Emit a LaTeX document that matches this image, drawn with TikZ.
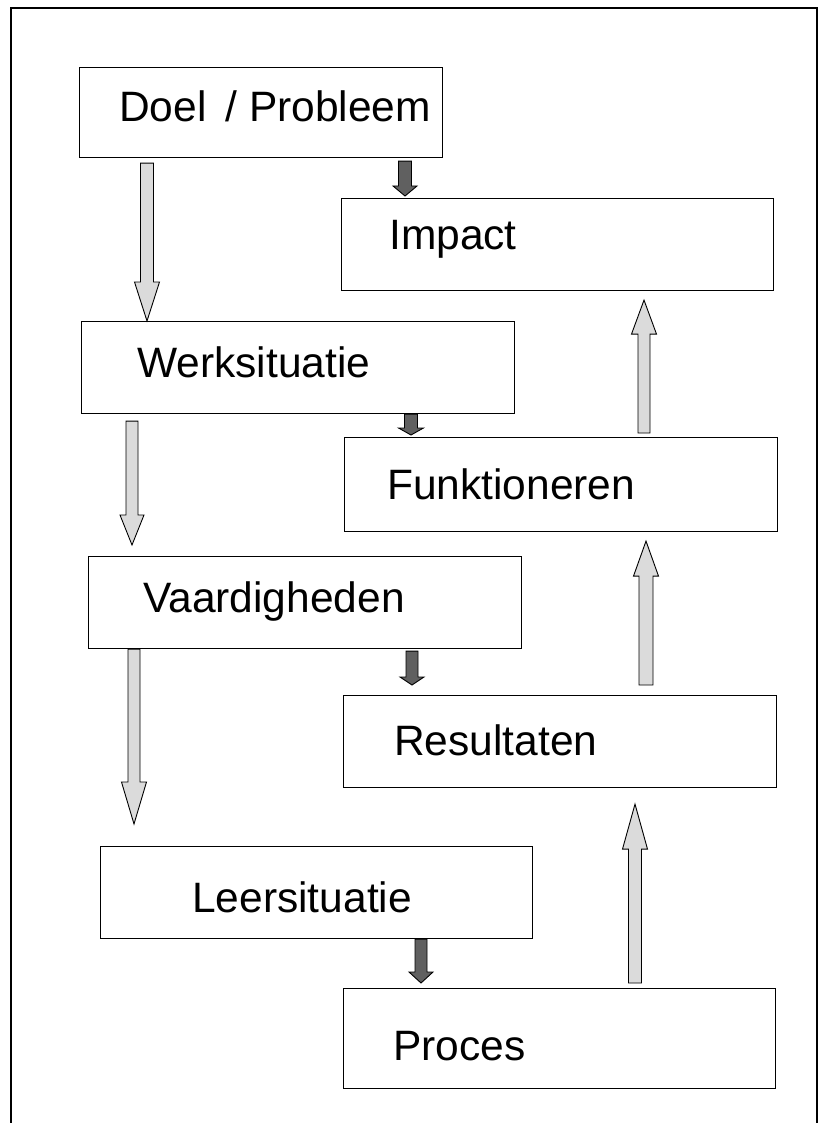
\documentclass[tikz,border=0pt]{standalone}
\usepackage{fontspec}
\setmainfont{Liberation Sans}
\usetikzlibrary{calc}
\tikzset{
  box/.style={draw, line width=1.1pt, inner sep=0pt, anchor=north west},
  lbl/.style={anchor=base west, inner sep=0pt, font=\fontsize{42.5}{50}\selectfont},
  lightarr/.style={draw, line width=0.9pt, fill=gray!28},
  darkarr/.style={draw, line width=0.9pt, fill=gray!75!black},
  frame/.style={draw, line width=2pt},
}
% tail, tip, half shaft, half head, head length, style
\newcommand{\blockarrow}[6]{%
  \path[#6] let \p1=(#1), \p2=(#2), \n1={sign(\y2-\y1)} in
    (\x1-#3,\y1) -- (\x1-#3,\y2-\n1*#5) -- (\x1-#4,\y2-\n1*#5) -- (\x1,\y2)
    -- (\x1+#4,\y2-\n1*#5) -- (\x1+#3,\y2-\n1*#5) -- (\x1+#3,\y1) -- cycle;}
\begin{document}
\begin{tikzpicture}[x=1pt,y=-1pt]
\useasboundingbox (0,0) rectangle (828,1123);
\fill[white] (0,0) rectangle (828,1123);
% outer frame (open at the bottom)
\coordinate (fbl) at (11,1123);
\coordinate (ftl) at (11,8);
\coordinate (ftr) at (817,8);
\coordinate (fbr) at (817,1123);
\draw[frame] (fbl) -- (ftl) -- (ftr) -- (fbr);

% boxes
\node[box, minimum width=363pt, minimum height=90pt] (doel)   at (79,67)   {};
\node[box, minimum width=432pt, minimum height=92pt] (impact) at (341,198) {};
\node[box, minimum width=433pt, minimum height=92pt] (werk)   at (81,321)  {};
\node[box, minimum width=433pt, minimum height=94pt] (funk)   at (344,437) {};
\node[box, minimum width=433pt, minimum height=92pt] (vaard)  at (88,556)  {};
\node[box, minimum width=433pt, minimum height=92pt] (resul)  at (343,695) {};
\node[box, minimum width=432pt, minimum height=92pt] (leer)   at (100,846) {};
\node[box, minimum width=432pt, minimum height=100pt] (proces) at (343,988) {};

% labels
\node[lbl] (tdoel)   at (119,122)  {Doel\hspace{19pt}/ Probleem};
\node[lbl] (timpact) at (389,249)  {Impact};
\node[lbl] (twerk)   at (137,377)  {Werksituatie};
\node[lbl] (tfunk)   at (387,499)  {Funktioneren};
\node[lbl] (tvaard)  at (143,612)  {Vaardigheden};
\node[lbl] (tresul)  at (394,755)  {Resultaten};
\node[lbl] (tleer)   at (192,912)  {Leersituatie};
\node[lbl] (tproces) at (393,1060) {Proces};

% arrow end points
\coordinate (a1s) at ($(doel.south west)+(68,5)$);
\coordinate (a1e) at (a1s |- werk.north);
\coordinate (a2s) at ($(doel.south west)+(326,3)$);
\coordinate (a2e) at ($(a2s |- impact.north)+(0,-2)$);
\coordinate (a3s) at ($(werk.south west)+(51,7)$);
\coordinate (a3e) at ($(a3s |- vaard.north)+(0,-11)$);
\coordinate (a4s) at ($(werk.south west)+(330,0)$);
\coordinate (a4e) at ($(a4s |- funk.north)+(0,-2)$);
\coordinate (a5s) at ($(vaard.south west)+(46,0)$);
\coordinate (a5e) at ($(a5s |- leer.north)+(0,-22)$);
\coordinate (a6s) at ($(vaard.south west)+(324,2)$);
\coordinate (a6e) at ($(a6s |- resul.north)+(0,-10)$);
\coordinate (a7s) at ($(leer.south west)+(321,0)$);
\coordinate (a7e) at ($(a7s |- proces.north)+(0,-5)$);
\coordinate (u1s) at ($(proces.north west)+(292,-5)$);
\coordinate (u1e) at ($(u1s |- resul.south)+(0,16)$);
\coordinate (u2s) at ($(resul.north west)+(303,-10)$);
\coordinate (u2e) at ($(u2s |- funk.south)+(0,9)$);
\coordinate (u3s) at ($(funk.north west)+(300,-4)$);
\coordinate (u3e) at ($(u3s |- impact.south)+(0,9)$);

% arrows
\blockarrow{a1s}{a1e}{6.5pt}{12.5pt}{39pt}{lightarr}
\blockarrow{a2s}{a2e}{6.5pt}{12pt}{10pt}{darkarr}
\blockarrow{a3s}{a3e}{6pt}{12pt}{30pt}{lightarr}
\blockarrow{a4s}{a4e}{6.5pt}{12.5pt}{7pt}{darkarr}
\blockarrow{a5s}{a5e}{6pt}{12.5pt}{42pt}{lightarr}
\blockarrow{a6s}{a6e}{6pt}{12pt}{8pt}{darkarr}
\blockarrow{a7s}{a7e}{6pt}{12pt}{11pt}{darkarr}
\blockarrow{u1s}{u1e}{6.5pt}{12.5pt}{45pt}{lightarr}
\blockarrow{u2s}{u2e}{7pt}{12.5pt}{35pt}{lightarr}
\blockarrow{u3s}{u3e}{6pt}{12.5pt}{34pt}{lightarr}
\end{tikzpicture}
\end{document}
